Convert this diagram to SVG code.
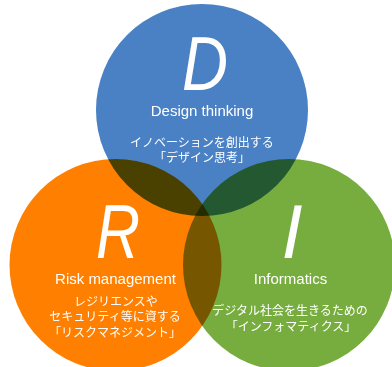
<svg xmlns="http://www.w3.org/2000/svg" width="392" height="367" viewBox="0 0 392 367">
<style>
.c{mix-blend-mode:multiply}
.big{font-family:"Liberation Sans",Arial,sans-serif;font-style:italic;font-size:76px;fill:#fff;text-anchor:middle}
.en{font-family:"Liberation Sans",Arial,sans-serif;font-size:15px;fill:#fff;text-anchor:middle}
.jp{font-family:"Noto Sans CJK JP","Noto Sans",sans-serif;font-size:12px;fill:#fff;text-anchor:middle}
</style>
<rect width="392" height="367" fill="#fff"/>
<g id="circles" style="isolation:isolate">
<circle class="c" cx="202" cy="110" r="106" fill="#4a81c4"/>
<circle class="c" cx="115.5" cy="265" r="106" fill="#ff8000"/>
<circle class="c" cx="289" cy="265" r="106" fill="#76ad3e"/>
</g>
<g id="node-D">
<text class="big" x="205" y="90" textLength="46" lengthAdjust="spacingAndGlyphs">D</text>
<text class="en" x="202" y="116">Design thinking</text>
<text class="jp" x="202" y="147">イノベーションを創出する</text>
<text class="jp" x="202" y="162">「デザイン思考」</text>
</g>
<g id="node-R">
<text class="big" x="118" y="258" textLength="44" lengthAdjust="spacingAndGlyphs">R</text>
<text class="en" x="115.5" y="284">Risk management</text>
<text class="jp" x="116" y="306">レジリエンスや</text>
<text class="jp" x="115" y="321">セキュリティ等に資する</text>
<text class="jp" x="115" y="337">「リスクマネジメント」</text>
</g>
<g id="node-I">
<text class="big" x="292" y="258">I</text>
<text class="en" x="290.5" y="284">Informatics</text>
<text class="jp" x="290" y="315">デジタル社会を生きるための</text>
<text class="jp" x="291" y="331">「インフォマティクス」</text>
</g>
<g id="connectors"/>
</svg>
